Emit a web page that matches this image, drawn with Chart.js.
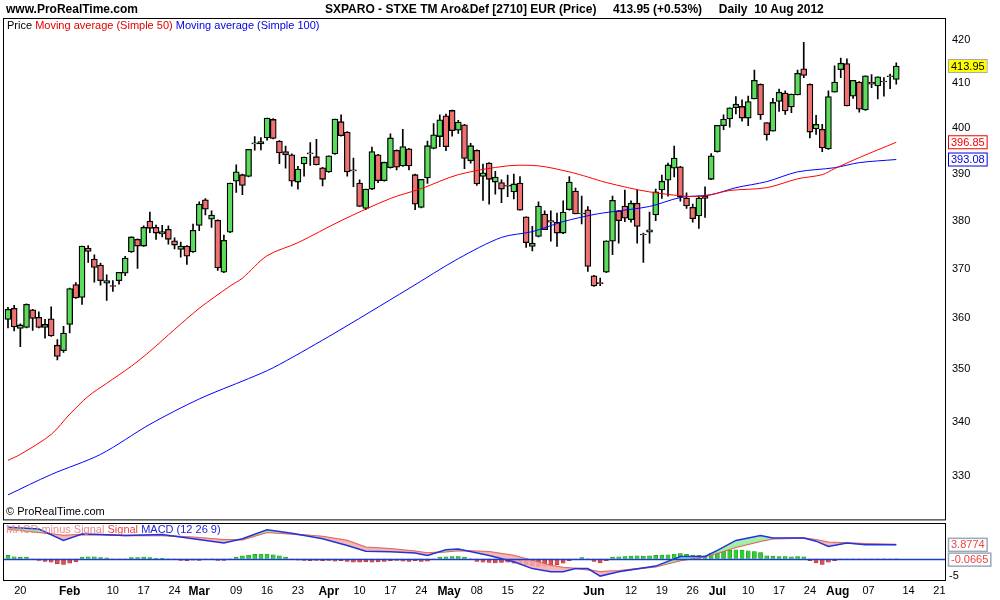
<!DOCTYPE html>
<html><head><meta charset="utf-8">
<script src="https://cdn.jsdelivr.net/npm/chart.js@4.4.1/dist/chart.umd.min.js"></script>
<style>
body{margin:0;width:1000px;height:600px;background:#fff;font-family:"Liberation Sans",Arial,sans-serif;position:relative;overflow:hidden}
canvas{position:absolute;left:0}
.t{position:absolute;white-space:pre;font-size:12px}
</style></head><body>
<canvas id="main" width="1000" height="529" style="top:0px"></canvas>
<canvas id="macd" width="1000" height="80" style="top:520px"></canvas>
<div class="t" style="left:6px;top:2px;font-weight:bold">www.ProRealTime.com</div>
<div class="t" style="left:325px;top:2px;font-weight:bold">SXPARO - STXE TM Aro&amp;Def [2710] EUR (Price)     413.95 (+0.53%)     Daily  10 Aug 2012</div>
<div class="t" style="left:7px;top:19px;font-size:11px"><span>Price </span><span style="color:#e00000">Moving average (Simple 50) </span><span style="color:#0000dd">Moving average (Simple 100)</span></div>
<div class="t" style="left:6px;top:505px;font-size:11px">© ProRealTime.com</div>
<div class="t" style="left:6px;top:523px;font-size:11px"><span style="color:#e88">MACD minus Signal </span><span style="color:#e44">Signal </span><span style="color:#22d">MACD (12 26 9)</span></div>
<script>
const open=[359.8,362.0,358.0,358.2,361.7,360.2,358.2,359.9,354.7,353.6,
358.8,366.8,364.2,374.3,372.0,370.8,367.1,366.5,367.6,369.1,
373.5,376.1,374.7,379.9,378.6,377.2,378.2,375.8,374.0,374.7,
373.5,379.0,384.4,380.3,380.1,369.3,377.6,388.4,389.8,389.4,
396.5,396.5,397.8,401.9,397.1,394.8,394.1,388.2,392.1,394.3,
393.7,391.3,390.4,394.3,401.4,399.1,390.8,388.0,382.6,386.7,
394.1,388.5,391.3,395.1,391.7,395.4,389.8,382.8,389.1,395.5,
398.1,402.7,403.9,399.5,400.7,392.8,395.1,389.4,392.3,388.2,
388.1,387.4,386.1,388.0,380.8,374.6,376.7,381.4,380.0,379.7,
377.4,382.3,386.3,381.4,382.3,368.6,367.1,369.3,375.7,382.1,
383.1,380.2,383.7,377.1,377.6,381.2,386.5,388.6,391.2,391.5,
384.8,382.8,381.0,385.2,388.8,394.8,400.5,402.0,404.5,404.8,
402.2,406.5,409.8,401.2,399.3,405.9,407.8,404.7,407.4,413.3,
409.8,399.8,399.7,395.4,408.0,413.1,414.5,407.1,410.3,404.0,
410.3,409.4,410.3,411.5,410.9];
const high=[362.2,362.6,358.9,362.9,361.8,361.3,359.8,362.3,355.8,358.4,
366.1,367.2,374.7,374.8,372.9,371.2,368.8,367.6,369.3,372.6,
376.6,376.2,378.9,381.8,379.1,379.0,378.9,376.4,375.5,374.8,
379.3,384.0,384.7,382.1,380.2,377.0,388.0,391.9,389.9,395.3,
398.1,397.9,402.2,402.1,397.2,396.0,394.3,391.6,393.6,396.8,
397.5,391.4,393.9,402.0,402.9,399.2,393.4,388.7,386.7,395.8,
394.2,392.5,398.7,395.2,399.7,395.5,389.9,388.8,397.1,401.0,
402.9,403.1,404.0,401.7,400.8,396.6,395.2,392.1,392.4,390.5,
388.7,389.7,389.9,389.4,380.8,378.8,384.0,382.1,382.1,381.6,
384.2,389.4,386.9,385.2,383.0,368.7,368.1,375.8,385.2,382.2,
386.5,384.2,386.5,377.4,381.8,386.7,389.7,392.3,396.0,391.6,
385.9,383.5,385.2,387.2,394.4,400.6,402.9,404.5,407.0,406.3,
407.1,413.0,409.9,401.2,406.6,408.7,408.3,407.6,413.0,419.4,
409.9,402.8,400.8,408.3,414.0,415.8,415.6,410.7,410.4,411.7,
412.0,411.5,411.3,412.1,414.7];
const low=[358.1,357.5,354.4,358.1,357.6,358.1,356.1,356.4,351.8,353.3,
357.1,364.0,362.8,371.3,367.3,366.7,363.6,365.4,366.9,368.6,
373.4,370.1,374.6,377.5,376.1,376.6,375.1,374.1,372.4,370.9,
373.4,377.9,381.2,378.6,369.7,369.2,377.5,386.0,385.5,389.3,
395.1,395.2,397.3,397.6,392.2,391.2,387.3,386.7,389.5,391.8,
391.9,387.4,390.3,394.2,398.2,389.5,387.2,383.0,382.3,386.6,
388.1,388.4,391.2,390.8,391.6,390.8,382.3,382.7,387.9,395.4,
395.9,395.0,398.2,398.8,391.1,392.3,387.5,384.3,383.5,385.6,
383.8,385.1,384.6,382.2,374.4,373.7,376.6,378.1,375.7,374.6,
377.3,382.2,381.4,379.3,369.5,366.4,366.6,369.2,372.9,375.3,
379.8,379.7,375.3,371.3,375.3,380.0,384.7,385.2,389.3,384.1,
382.6,379.7,378.4,380.7,388.7,394.7,399.6,400.2,403.1,401.5,
400.5,406.5,401.9,397.3,399.3,403.7,403.0,403.4,407.4,411.3,
397.8,398.6,394.8,395.3,408.0,411.3,404.9,406.6,403.5,403.9,
409.0,406.5,407.1,408.8,409.8];
const close=[361.8,358.3,358.7,362.8,360.0,358.2,358.8,356.5,352.5,357.1,
366.0,364.1,374.7,373.6,370.3,367.6,367.6,366.4,369.3,372.2,
376.6,374.7,378.6,378.4,377.4,377.7,376.1,374.9,374.7,372.6,
378.0,383.5,382.4,381.2,370.2,375.9,388.0,390.4,387.5,395.3,
396.7,397.0,402.2,397.7,394.5,394.1,388.4,391.0,393.6,394.4,
391.9,388.8,393.9,402.0,398.3,390.4,390.6,383.0,386.7,394.8,
388.5,392.5,397.8,391.4,395.9,391.7,383.5,388.8,396.1,398.5,
401.8,395.9,399.4,401.3,393.3,396.1,387.8,390.2,388.8,389.3,
386.7,387.3,387.8,382.2,375.4,375.3,383.1,378.1,379.7,377.4,
381.8,388.2,381.4,381.6,370.5,366.5,367.0,375.8,384.3,380.0,
380.5,383.7,378.8,377.0,378.1,386.1,388.4,391.9,393.4,385.0,
383.1,380.4,384.8,384.7,393.9,400.6,402.0,404.5,405.3,402.2,
405.9,410.7,402.9,398.5,405.7,408.0,403.8,407.6,412.3,411.8,
399.1,400.8,395.6,407.0,410.3,414.6,404.9,410.7,404.2,411.7,
409.8,411.5,410.4,411.6,413.95];
const ma50Idx=[0,2,7,10,13,16,20,23,27,31,36,38,42,47,54,62,67,73,81,86,91,94,97,104,112,117,123,128,132,134,138,144];
const ma50=[332.8,333.9,337.6,341.4,344.8,347.3,350.6,353.5,357.8,362.0,366.5,368.1,372.7,375.4,380.0,384.7,386.8,389.8,391.7,391.7,390.4,389.3,388.1,386.1,385.1,386.4,387.0,388.9,389.8,391.1,393.5,396.85];
const ma100Idx=[0,7,15,23,31,39,43,52,65,73,80,85,90,95,98,104,109,114,118,123,128,134,138,144];
const ma100=[326.5,330.2,333.9,339.5,344.3,348.2,350.3,356.4,366.0,372.1,376.5,377.7,379.8,381.3,381.9,383.0,384.9,385.5,387.0,388.3,390.4,391.3,392.4,393.08];
const macdIdx=[0,5,9,12,15,19,25,30,35,38,42,46,51,55,58,62,66,68,71,73,78,82,85,88,90,92,94,96,99,105,109,113,115,118,122,124,129,131,133,136,139,144];
const macdLine=[8.8,8.3,5.1,6.9,6.8,6.5,6.8,5.6,4.4,5.6,8.1,7.1,5.6,3.7,2.1,1.9,1.6,0.9,2.5,2.7,0.9,-0.9,-2.8,-3.7,-3.7,-2.8,-2.8,-4.9,-3.7,-2.1,0.6,0.6,2.3,5.1,6.5,5.8,5.8,4.9,3.4,4.4,3.9,3.8774];
const signalLine=[8.3,7.4,6.5,6.8,6.7,6.5,6.5,6.0,5.3,5.3,7.4,6.9,6.2,5.1,3.2,2.8,2.1,1.6,1.9,2.3,1.9,0.9,-0.5,-1.9,-2.5,-2.8,-3.1,-3.7,-3.4,-2.3,-0.5,0.6,1.5,3.2,4.9,5.6,5.8,5.3,4.6,4.4,4.2,3.94];
const histo=[0.9,0.5,0.4,0.4,-0.3,-0.5,-0.8,-1.0,-1.4,-1.6,-1.3,-0.9,0.4,0.5,0.5,0.3,0.2,-0.3,-0.3,-0.2,
0.3,0.3,0.4,0.3,0.1,0.1,-0.1,-0.3,-0.5,-0.6,-0.4,-0.5,-0.3,-0.1,-0.5,-0.5,-0.1,0.4,0.8,1.0,
1.2,1.3,1.3,1.1,0.8,0.4,-0.3,-0.4,-0.5,-0.6,-0.5,-0.6,-0.5,-0.7,-0.6,-0.8,-1.0,-1.0,-0.9,-1.0,
-0.9,-0.8,-0.6,-0.5,-0.7,-0.8,-0.6,-0.8,-0.7,-0.2,0.4,0.5,0.6,0.6,0.4,-0.1,-0.8,-1.0,-1.1,-1.2,
-1.1,-1.0,-1.3,-1.5,-1.8,-2.0,-2.2,-2.1,-1.9,-1.7,-1.3,-0.6,-0.2,0.3,-0.1,-0.8,-1.2,-0.6,0.4,0.5,
0.6,0.7,0.8,0.7,0.8,0.9,1.0,1.1,1.3,1.4,1.2,1.0,0.9,0.8,1.5,1.8,2.1,2.4,2.5,2.4,
2.2,2.0,1.7,0.8,0.7,0.6,0.6,0.5,0.6,0.5,-0.6,-1.2,-1.6,-1.0,-0.6,-0.3,-0.2,-0.3,-0.1,-0.3,
-0.2,-0.3,-0.1,-0.2,-0.0665];
const priceTicks=[330,340,350,360,370,380,390,400,410,420];
const tickIdx=[2,10,17,22,27,31,37,42,47,52,57,62,67,71.5,76,81,86,95,101,106,111,115,120,125,130,134.5,139.5,146,151];
const tickText=["20","Feb","10","17","24","Mar","09","16","23","Apr","10","17","24","May","08","15","22","Jun","12","19","26","Jul","10","17","24","Aug","07","14","21"];
const months=new Set(["Feb","Mar","Apr","May","Jun","Jul","Aug"]);

const XMIN=-0.81, XMAX=151.9;
const FONT="'Liberation Sans', Arial, sans-serif";
Chart.defaults.font.family=FONT;
const idx=close.map((_,i)=>i);
const up=idx.map(i=>close[i]>=open[i]);
const frame={id:'frame',afterDraw(c){const a=c.chartArea,x=c.ctx;x.save();x.strokeStyle='#000';x.lineWidth=1;x.strokeRect(a.left+0.5,a.top+0.5,a.right-a.left,a.bottom-a.top);x.restore();}};
function box(ctx,x,y,txt,bg,bd,fg){ctx.font="11px "+FONT;const w=ctx.measureText(txt).width+5;ctx.fillStyle=bg;ctx.fillRect(x,y-7,w,14);ctx.strokeStyle=bd;ctx.strokeRect(x+0.5,y-6.5,w,13);ctx.fillStyle=fg;ctx.textBaseline='middle';ctx.fillText(txt,x+3,y+0.5);}
const mainLabels={id:'ml',afterDraw(c){const s=c.scales.y,x=c.ctx,r=c.chartArea.right;x.save();
box(x,r+3,s.getPixelForValue(close[close.length-1]),close[close.length-1].toFixed(2),'#ffff00','#aaa','#000');
box(x,r+3,s.getPixelForValue(ma50[ma50.length-1]),ma50[ma50.length-1].toFixed(2),'#fff','#e00','#e00');
box(x,r+3,s.getPixelForValue(ma100[ma100.length-1]),ma100[ma100.length-1].toFixed(2),'#fff','#00d','#00d');x.restore();}};
new Chart(document.getElementById('main'),{
 data:{datasets:[
  {type:'bar',data:idx.map(i=>({x:i,y:[low[i],high[i]]})),backgroundColor:'#000',barThickness:1,order:3},
  {type:'bar',data:idx.map(i=>({x:i,y:[open[i],close[i]]})),backgroundColor:idx.map(i=>up[i]?'#5cdc5c':'#ef7272'),borderColor:'#000',borderWidth:1.3,borderSkipped:false,barThickness:6,minBarLength:1,order:2},
  {type:'line',data:ma50Idx.map((v,k)=>({x:v,y:ma50[k]})),borderColor:'#ff0000',borderWidth:1,pointRadius:0,tension:0.3,order:1},
  {type:'line',data:ma100Idx.map((v,k)=>({x:v,y:ma100[k]})),borderColor:'#0000ff',borderWidth:1,pointRadius:0,tension:0.3,order:1}
 ]},
 options:{animation:false,responsive:false,events:[],datasets:{bar:{grouped:false}},
  layout:{padding:{left:3,top:18,right:0,bottom:0}},
  plugins:{legend:{display:false},tooltip:{enabled:false}},
  scales:{
   x:{type:'linear',offset:false,min:XMIN,max:XMAX,display:false},
   y:{type:'logarithmic',position:'right',min:322.1,max:425.1,
     afterBuildTicks:s=>{s.ticks=priceTicks.map(v=>({value:v}));},
     afterFit:s=>{s.width=55;},
     grid:{display:false,drawTicks:true,tickLength:4,color:'#000'},border:{display:false},
     ticks:{color:'#000',font:{size:11},padding:3,callback:v=>String(v)}}
  }},
 plugins:[frame,mainLabels]});

const zero={id:'zero',afterDatasetsDraw(c){const s=c.scales.y,a=c.chartArea,x=c.ctx,y=Math.round(s.getPixelForValue(0))+0.5;x.save();x.strokeStyle='#1a3ccf';x.lineWidth=1.5;x.beginPath();x.moveTo(a.left,y);x.lineTo(a.right,y);x.stroke();
 const r=a.right;box(x,r+3,s.getPixelForValue(macdLine[macdLine.length-1]),macdLine[macdLine.length-1].toFixed(4),'#fff','#9ab','#e44');
 box(x,r+3,s.getPixelForValue(0)+1,histo[histo.length-1].toFixed(4),'#fff','#9ab','#e44');
 x.font="11px "+FONT;x.fillStyle='#000';x.textBaseline='middle';x.fillText('-5',r+4,s.getPixelForValue(-5));x.restore();}};
new Chart(document.getElementById('macd'),{
 data:{datasets:[
  {type:'bar',data:idx.map(i=>({x:i,y:histo[i]})),backgroundColor:histo.map(v=>v>=0?'#33cc33':'#e05050'),borderColor:histo.map(v=>v>=0?'#118811':'#aa2222'),borderWidth:0.5,barThickness:4,order:3},
  {type:'line',data:signalLine.map((v,k)=>({x:macdIdx[k],y:v})),borderColor:'#e25555',borderWidth:1.5,pointRadius:0,order:2},
  {type:'line',data:macdLine.map((v,k)=>({x:macdIdx[k],y:v})),borderColor:'#2233dd',borderWidth:1.5,pointRadius:0,order:1,
   fill:{target:1,above:'rgba(150,235,150,0.85)',below:'rgba(245,170,170,0.85)'}}
 ]},
 options:{animation:false,responsive:false,events:[],
  layout:{padding:{left:3,top:3,right:0,bottom:0}},
  plugins:{legend:{display:false},tooltip:{enabled:false}},
  scales:{
   x:{type:'linear',offset:false,min:XMIN,max:XMAX,afterBuildTicks:s=>{s.ticks=tickIdx.map(v=>({value:v}));},
     afterFit:s=>{s.height=20;},
     grid:{display:false,drawTicks:true,tickLength:3,color:'#000'},border:{display:false},
     ticks:{color:'#000',autoSkip:false,maxRotation:0,padding:1,
       font:c=>({size:months.has(tickText[c.index])?12:11,weight:months.has(tickText[c.index])?'bold':'normal'}),
       callback:(v,i)=>tickText[i]}},
   y:{min:-6,max:10,position:'right',display:true,afterFit:s=>{s.width=55;},
     grid:{display:false},border:{display:false},ticks:{display:false}}
  }},
 plugins:[frame,zero]});
</script></body></html>
